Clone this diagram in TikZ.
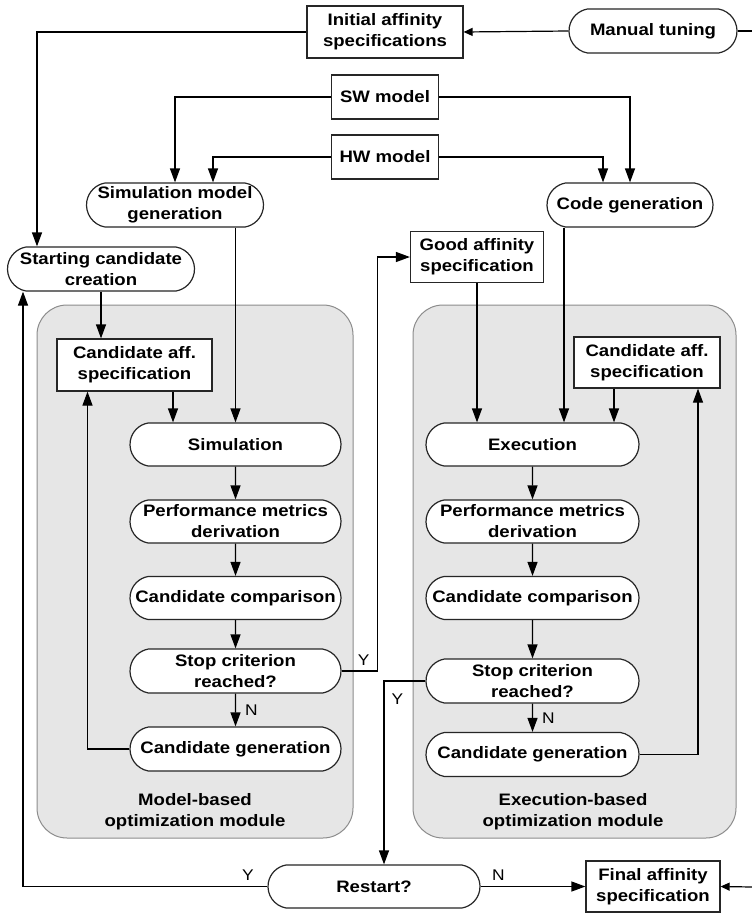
\documentclass[tikz,border=0pt]{standalone}
\usepackage{fontspec}
\newfontfamily\flowfont{Liberation Sans}[FakeStretch=1.12]
\usetikzlibrary{shapes.misc}
\usetikzlibrary{arrows.meta}
\usetikzlibrary{calc}
\definecolor{modgray}{HTML}{E6E6E6}
\definecolor{modedge}{HTML}{8C8C8C}
\tikzstyle{blk}=[draw=black!85, line width=1.2pt, fill=white, align=center, font=\flowfont\bfseries\fontsize{16.6}{21}\selectfont, inner sep=2pt]
\tikzstyle{proc}=[blk, rounded rectangle, rounded rectangle arc length=160, minimum height=43pt]
\tikzstyle{spec}=[blk, rectangle, minimum height=51pt]
\tikzstyle{module}=[draw=modedge, line width=1pt, fill=modgray, rounded corners=30pt]
\tikzstyle{flow}=[line width=1.2pt, -{Triangle[length=14pt,width=10pt]}]
\tikzstyle{flowsmall}=[line width=1.2pt, -{Triangle[length=9pt,width=8pt]}]
\tikzstyle{wire}=[line width=1.2pt]
\tikzstyle{yn}=[font=\flowfont\fontsize{15.5}{15.5}\selectfont, inner sep=1pt]
\tikzstyle{modlabel}=[align=center, font=\flowfont\bfseries\fontsize{16.6}{21}\selectfont]
\begin{document}
\begin{tikzpicture}[x=1pt,y=-1pt]
\fill[white] (0,0) rectangle (752,913);
\useasboundingbox (0,0) rectangle (752,913);
\draw[module] (37,305) rectangle (353,838);
\draw[module] (413,305) rectangle (736,838);
\node[modlabel] (modL) at (195,812) {Model-based\\optimization module};
\node[modlabel] (modR) at (573,812) {Execution-based\\optimization module};
\node[spec, minimum width=156pt, minimum height=52pt] (init) at (385,32) {Initial affinity\\specifications};
\node[proc, minimum width=172pt, minimum height=44pt] (manual) at (653,31) {Manual tuning};
\node[spec, minimum width=107pt, minimum height=44pt] (sw) at (385,97) {SW model};
\node[spec, minimum width=107pt, minimum height=44pt] (hw) at (385,157) {HW model};
\node[proc, minimum width=181pt, minimum height=44pt] (simgen) at (175,205) {Simulation model\\generation};
\node[proc, minimum width=170pt, minimum height=44pt] (codegen) at (630,205) {Code generation};
\node[proc, minimum width=191pt, minimum height=44pt] (start) at (101,269) {Starting candidate\\creation};
\node[spec, minimum width=133pt] (good) at (477,257) {Good affinity\\specification};
\node[spec, minimum width=155pt, minimum height=52pt] (caffL) at (134.5,365) {Candidate aff.\\specification};
\node[proc, minimum width=215pt] (simL) at (235.5,444.5) {Simulation};
\node[proc, minimum width=215pt] (perfL) at (235.5,521.5) {Performance metrics\\derivation};
\node[proc, minimum width=215pt] (compL) at (235.5,598) {Candidate comparison};
\node[proc, minimum width=215pt, minimum height=44pt] (stopL) at (235.5,671) {Stop criterion\\reached?};
\node[proc, minimum width=215pt, minimum height=44pt] (genL) at (235.5,749) {Candidate generation};
\node[spec, minimum width=146pt] (caffR) at (647,362.5) {Candidate aff.\\specification};
\node[proc, minimum width=217pt] (exec) at (532.5,444.5) {Execution};
\node[proc, minimum width=217pt] (perfR) at (532.5,521.5) {Performance metrics\\derivation};
\node[proc, minimum width=217pt] (compR) at (532.5,598) {Candidate comparison};
\node[proc, minimum width=217pt, minimum height=44pt] (stopR) at (532.5,681) {Stop criterion\\reached?};
\node[proc, minimum width=217pt, minimum height=44pt] (genR) at (532.5,754.5) {Candidate generation};
\node[proc, minimum width=216pt] (restart) at (374,886.5) {Restart?};
\node[spec, minimum width=134pt] (final) at (653,886.5) {Final affinity\\specification};
\coordinate (edgeA) at (752,31);
\coordinate (edgeB) at (752,887);
\draw[flowsmall] (manual.west) -- (init.east);
\draw[wire] (manual.east) -- (edgeA);
\draw[flowsmall] (edgeB) -- (final.east);
\draw[flow] (init.west) -| ([xshift=-64pt]start.north);
\draw[flow] (sw.west) -| (simgen.north);
\draw[flow] (sw.east) -| (codegen.north);
\draw[flow] (hw.west) -| ([xshift=38pt]simgen.north);
\draw[flow] (hw.east) -| ([xshift=-27pt]codegen.north);
\draw[flow] (simL.north |- simgen.south) -- (simL.north);
\draw[flow] ([xshift=-66pt]codegen.south) -- ([xshift=-66pt]codegen.south |- exec.north);
\draw[flow] (good.south) -- (good.south |- exec.north);
\draw[flow] ([xshift=-33pt]caffR.south) -- ([xshift=-33pt]caffR.south |- exec.north);
\draw[flow] (start.south) -- (start.south |- caffL.north);
\draw[flow] ([xshift=38.5pt]caffL.south) -- ([xshift=38.5pt]caffL.south |- simL.north);
\draw[flow] (simL) -- (perfL);
\draw[flow] (perfL) -- (compL);
\draw[flow] (compL) -- (stopL);
\draw[flow] (stopL) -- node[yn, right, xshift=8pt] {N} (genL);
\draw[flow] (genL.west) -| ([xshift=-47pt]caffL.south);
\draw[flow] (stopL.east) -- node[yn, above, yshift=4pt, xshift=4pt] {Y} ++(36,0) |- (good.west);
\draw[flow] (exec) -- (perfR);
\draw[flow] (perfR) -- (compR);
\draw[flow] (compR) -- (stopR);
\draw[flow] (stopR) -- node[yn, right, xshift=8pt] {N} (genR);
\draw[flow] (genR.east) -| ([xshift=51pt]caffR.south);
\draw[flow] (stopR.west) -| node[yn, pos=0.55, right, xshift=6pt] {Y} ([xshift=10pt]restart.north);
\draw[flow] (restart.west) -| node[yn, pos=0.04, above, yshift=4pt] {Y} ([xshift=-78pt]start.south);
\draw[flow] (restart.east) -- node[yn, pos=0.17, above, yshift=4pt] {N} (final.west);
\end{tikzpicture}
\end{document}
